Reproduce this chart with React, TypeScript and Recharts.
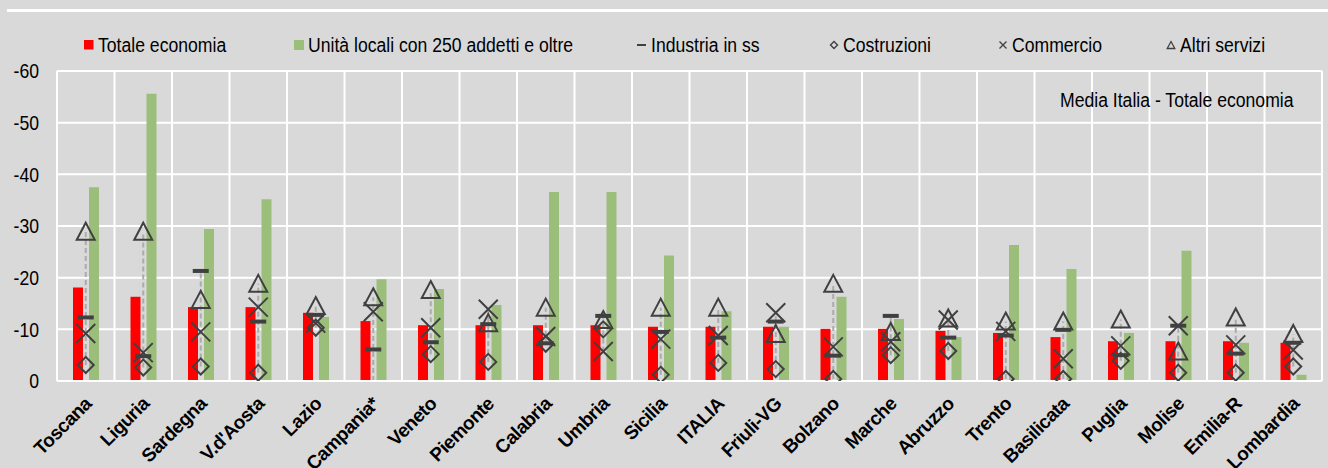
import React from 'react';
import {
  ComposedChart,
  Bar,
  Scatter,
  XAxis,
  YAxis,
  CartesianGrid,
  ReferenceLine,
} from 'recharts';

const categories = [
  'Toscana', 'Liguria', 'Sardegna', "V.d'Aosta", 'Lazio', 'Campania*', 'Veneto', 'Piemonte',
  'Calabria', 'Umbria', 'Sicilia', 'ITALIA', 'Friuli-VG', 'Bolzano', 'Marche', 'Abruzzo',
  'Trento', 'Basilicata', 'Puglia', 'Molise', 'Emilia-R', 'Lombardia',
];

const totaleEconomia = [
  -18.1, -16.3, -14.3, -14.3, -13.2, -11.6, -10.8, -10.8, -10.8, -10.8, -10.5,
  -10.5, -10.5, -10.1, -10.1, -9.7, -9.3, -8.5, -7.7, -7.7, -7.7, -7.4,
];

const unitaLocali250 = [
  -37.5, -55.6, -29.4, -35.2, -12.4, -19.7, -17.8, -14.7, -36.6, -36.6, -24.3,
  -13.5, -10.5, -16.3, -12.0, -8.5, -26.3, -21.7, -9.3, -25.2, -7.4, -1.2,
];

const industria = [
  -12.3, -4.8, -21.3, -11.5, -12.8, -6.1, -7.5, -11.0, -7.3, -12.6, -9.5,
  -8.4, -11.5, -4.9, -12.6, -8.4, -8.8, -9.9, -5.0, -10.7, -5.3, -7.4,
];

const costruzioni: (number | null)[] = [
  -3.1, -2.6, -2.8, -1.6, -10.3, null, -5.2, -3.7, -7.2, -10.0, -1.2,
  -3.5, -2.3, -0.4, -5.0, -5.8, -0.4, -0.4, -3.9, -1.6, -1.6, -2.8,
];

const commercio = [
  -9.2, -5.5, -9.5, -14.3, -11.2, -13.4, -10.3, -13.9, -8.6, -5.7, -8.1,
  -8.8, -13.2, -6.6, -7.6, -11.8, -9.6, -4.3, -6.8, -10.7, -7.0, -6.0,
];

const altriServizi = [
  -28.9, -28.9, -15.7, -18.8, -14.5, -16.2, -17.6, -11.2, -14.2, -11.8, -14.2,
  -14.2, -9.1, -18.8, -9.5, -12.1, -11.5, -11.5, -11.9, -5.7, -12.3, -9.1,
];

const yTicks = [-60, -50, -40, -30, -20, -10, 0];

const RED = '#ff0000';
const GREEN = '#9bbf7b';
const MARK = '#404040';
const BG = '#d9d9d9';

const data = categories.map((name, i) => ({
  name,
  totale: totaleEconomia[i],
  grandi: unitaLocali250[i],
  industria: industria[i],
  costruzioni: costruzioni[i],
  commercio: commercio[i],
  altri: altriServizi[i],
}));

const hiLo = data.map((d) => {
  const vals = [d.industria, d.costruzioni ?? 0, d.commercio, d.altri];
  return { name: d.name, lo: Math.max(...vals), hi: Math.min(...vals) };
});

const ok = (v: any) => typeof v === 'number' && isFinite(v);

const DashShape = (p: any) =>
  ok(p.cx) && ok(p.cy) ? <rect x={p.cx - 8} y={p.cy - 2} width={16} height={4} fill={MARK} /> : <g />;
const DiamondShape = (p: any) =>
  ok(p.cx) && ok(p.cy) && p.payload && p.payload.costruzioni != null ? (
    <path
      d={`M${p.cx},${p.cy - 8}L${p.cx + 8},${p.cy}L${p.cx},${p.cy + 8}L${p.cx - 8},${p.cy}Z`}
      fill="none"
      stroke={MARK}
      strokeWidth={2}
    />
  ) : (
    <g />
  );
const CrossShape = (p: any) =>
  ok(p.cx) && ok(p.cy) ? (
    <path
      d={`M${p.cx - 9.5},${p.cy - 9.5}L${p.cx + 9.5},${p.cy + 9.5}M${p.cx + 9.5},${p.cy - 9.5}L${p.cx - 9.5},${p.cy + 9.5}`}
      fill="none"
      stroke={MARK}
      strokeWidth={2}
    />
  ) : (
    <g />
  );
const TriangleShape = (p: any) =>
  ok(p.cx) && ok(p.cy) ? (
    <path
      d={`M${p.cx},${p.cy - 9}L${p.cx + 9},${p.cy + 8}L${p.cx - 9},${p.cy + 8}Z`}
      fill="none"
      stroke={MARK}
      strokeWidth={2}
      strokeLinejoin="miter"
    />
  ) : (
    <g />
  );

const XTick = (props: any) => {
  const { x, y, payload } = props;
  return (
    <g transform={`translate(${x + 7},${y + 16})`}>
      <text
        textAnchor="end"
        transform="rotate(-45)"
        fontWeight="bold"
        fontSize={19}
        fill="#000"
        fontFamily="'Liberation Sans', Arial, sans-serif"
        letterSpacing={-0.5}
      >
        {payload.value}
      </text>
    </g>
  );
};

const YTick = (props: any) => {
  const { x, y, payload } = props;
  return (
    <g transform={`translate(${x},${y}) scale(0.88,1)`}>
      <text
        textAnchor="end"
        dy="0.36em"
        fontSize={20}
        fill="#000"
        fontFamily="'Liberation Sans', Arial, sans-serif"
      >
        {String(payload.value)}
      </text>
    </g>
  );
};

const legendItems = [
  { label: 'Totale economia', icon: 'red', left: 84 },
  { label: 'Unità locali con 250 addetti e oltre', icon: 'green', left: 294 },
  { label: 'Industria in ss', icon: 'dash', left: 637 },
  { label: 'Costruzioni', icon: 'diamond', left: 829 },
  { label: 'Commercio', icon: 'cross', left: 998 },
  { label: 'Altri servizi', icon: 'triangle', left: 1166 },
];

const LegendIcon = ({ kind }: { kind: string }) => {
  const s = { display: 'block' } as React.CSSProperties;
  switch (kind) {
    case 'red':
      return <svg width={10} height={10} style={s}><rect width={9.5} height={9.5} fill={RED} /></svg>;
    case 'green':
      return <svg width={10} height={10} style={s}><rect width={10} height={10} fill={GREEN} /></svg>;
    case 'dash':
      return <svg width={10} height={10} style={s}><rect x={0} y={4} width={9} height={2} fill={MARK} /></svg>;
    case 'diamond':
      return (
        <svg width={10} height={10} style={s}>
          <path d="M5,1.5L8.5,5L5,8.5L1.5,5Z" fill="none" stroke={MARK} strokeWidth={1.4} />
        </svg>
      );
    case 'cross':
      return (
        <svg width={10} height={10} style={s}>
          <path d="M1.5,1.5L8.5,8.5M8.5,1.5L1.5,8.5" fill="none" stroke={MARK} strokeWidth={1.3} />
        </svg>
      );
    default:
      return (
        <svg width={10} height={10} style={s}>
          <path d="M5,1.5L8.8,8.5L1.2,8.5Z" fill="none" stroke={MARK} strokeWidth={1.3} />
        </svg>
      );
  }
};

const textStyle: React.CSSProperties = {
  fontFamily: "'Liberation Sans', Arial, sans-serif",
  fontSize: 20,
  color: '#000',
  whiteSpace: 'nowrap',
  transform: 'scale(0.88,1)',
  transformOrigin: 'left center',
  lineHeight: '20px',
};

const ChartLegend = () => (
  <div style={{ position: 'absolute', left: 0, top: 0, width: 1328, height: 60 }}>
    {legendItems.map((it) => (
      <div
        key={it.label}
        style={{ position: 'absolute', left: it.left, top: 35, height: 20, display: 'flex', alignItems: 'center' }}
      >
        <LegendIcon kind={it.icon} />
        <div style={{ ...textStyle, marginLeft: 4 }}>{it.label}</div>
      </div>
    ))}
  </div>
);

export default function App() {
  return (
    <div style={{ position: 'absolute', left: 0, top: 0, width: 1328, height: 468, background: BG, overflow: 'hidden' }}>
      <div style={{ position: 'absolute', left: 7, top: 9, width: 1321, height: 3, background: '#ffffff' }} />
      <ChartLegend />
      <div style={{ position: 'absolute', left: 0, top: 0 }}>
        <ComposedChart
          width={1328}
          height={468}
          data={data}
          margin={{ top: 71, right: 6, bottom: 0, left: 0 }}
          barSize={10}
          barGap={6}
        >
          <CartesianGrid
            stroke="#ffffff"
            strokeWidth={2}
            verticalCoordinatesGenerator={({ offset }: any) =>
              categories.concat(['']).map((_, i) => offset.left + (i * offset.width) / categories.length)
            }
          />
          <XAxis
            dataKey="name"
            interval={0}
            tickLine={false}
            axisLine={{ stroke: '#ffffff', strokeWidth: 2 }}
            height={87}
            tick={<XTick />}
          />
          <YAxis
            reversed
            domain={[-60, 0]}
            ticks={yTicks}
            allowDataOverflow
            width={57}
            tickLine={false}
            axisLine={false}
            tickMargin={12}
            tick={<YTick />}
          />
          <Bar dataKey="totale" name="Totale economia" fill={RED} isAnimationActive={false} />
          <Bar dataKey="grandi" name="Unità locali con 250 addetti e oltre" fill={GREEN} isAnimationActive={false} />
          {hiLo.map((h) => (
            <ReferenceLine
              key={h.name}
              segment={[
                { x: h.name, y: h.lo },
                { x: h.name, y: h.hi },
              ]}
              stroke="#ababab"
              strokeWidth={2}
              strokeDasharray="5 3"
              ifOverflow="visible"
            />
          ))}
          <Scatter dataKey="industria" name="Industria in ss" shape={DashShape} isAnimationActive={false} />
          <Scatter dataKey="costruzioni" name="Costruzioni" shape={DiamondShape} isAnimationActive={false} />
          <Scatter dataKey="commercio" name="Commercio" shape={CrossShape} isAnimationActive={false} />
          <Scatter dataKey="altri" name="Altri servizi" shape={TriangleShape} isAnimationActive={false} />
        </ComposedChart>
      </div>
      <div style={{ ...textStyle, position: 'absolute', left: 1060, top: 90 }}>Media Italia - Totale economia</div>
    </div>
  );
}
